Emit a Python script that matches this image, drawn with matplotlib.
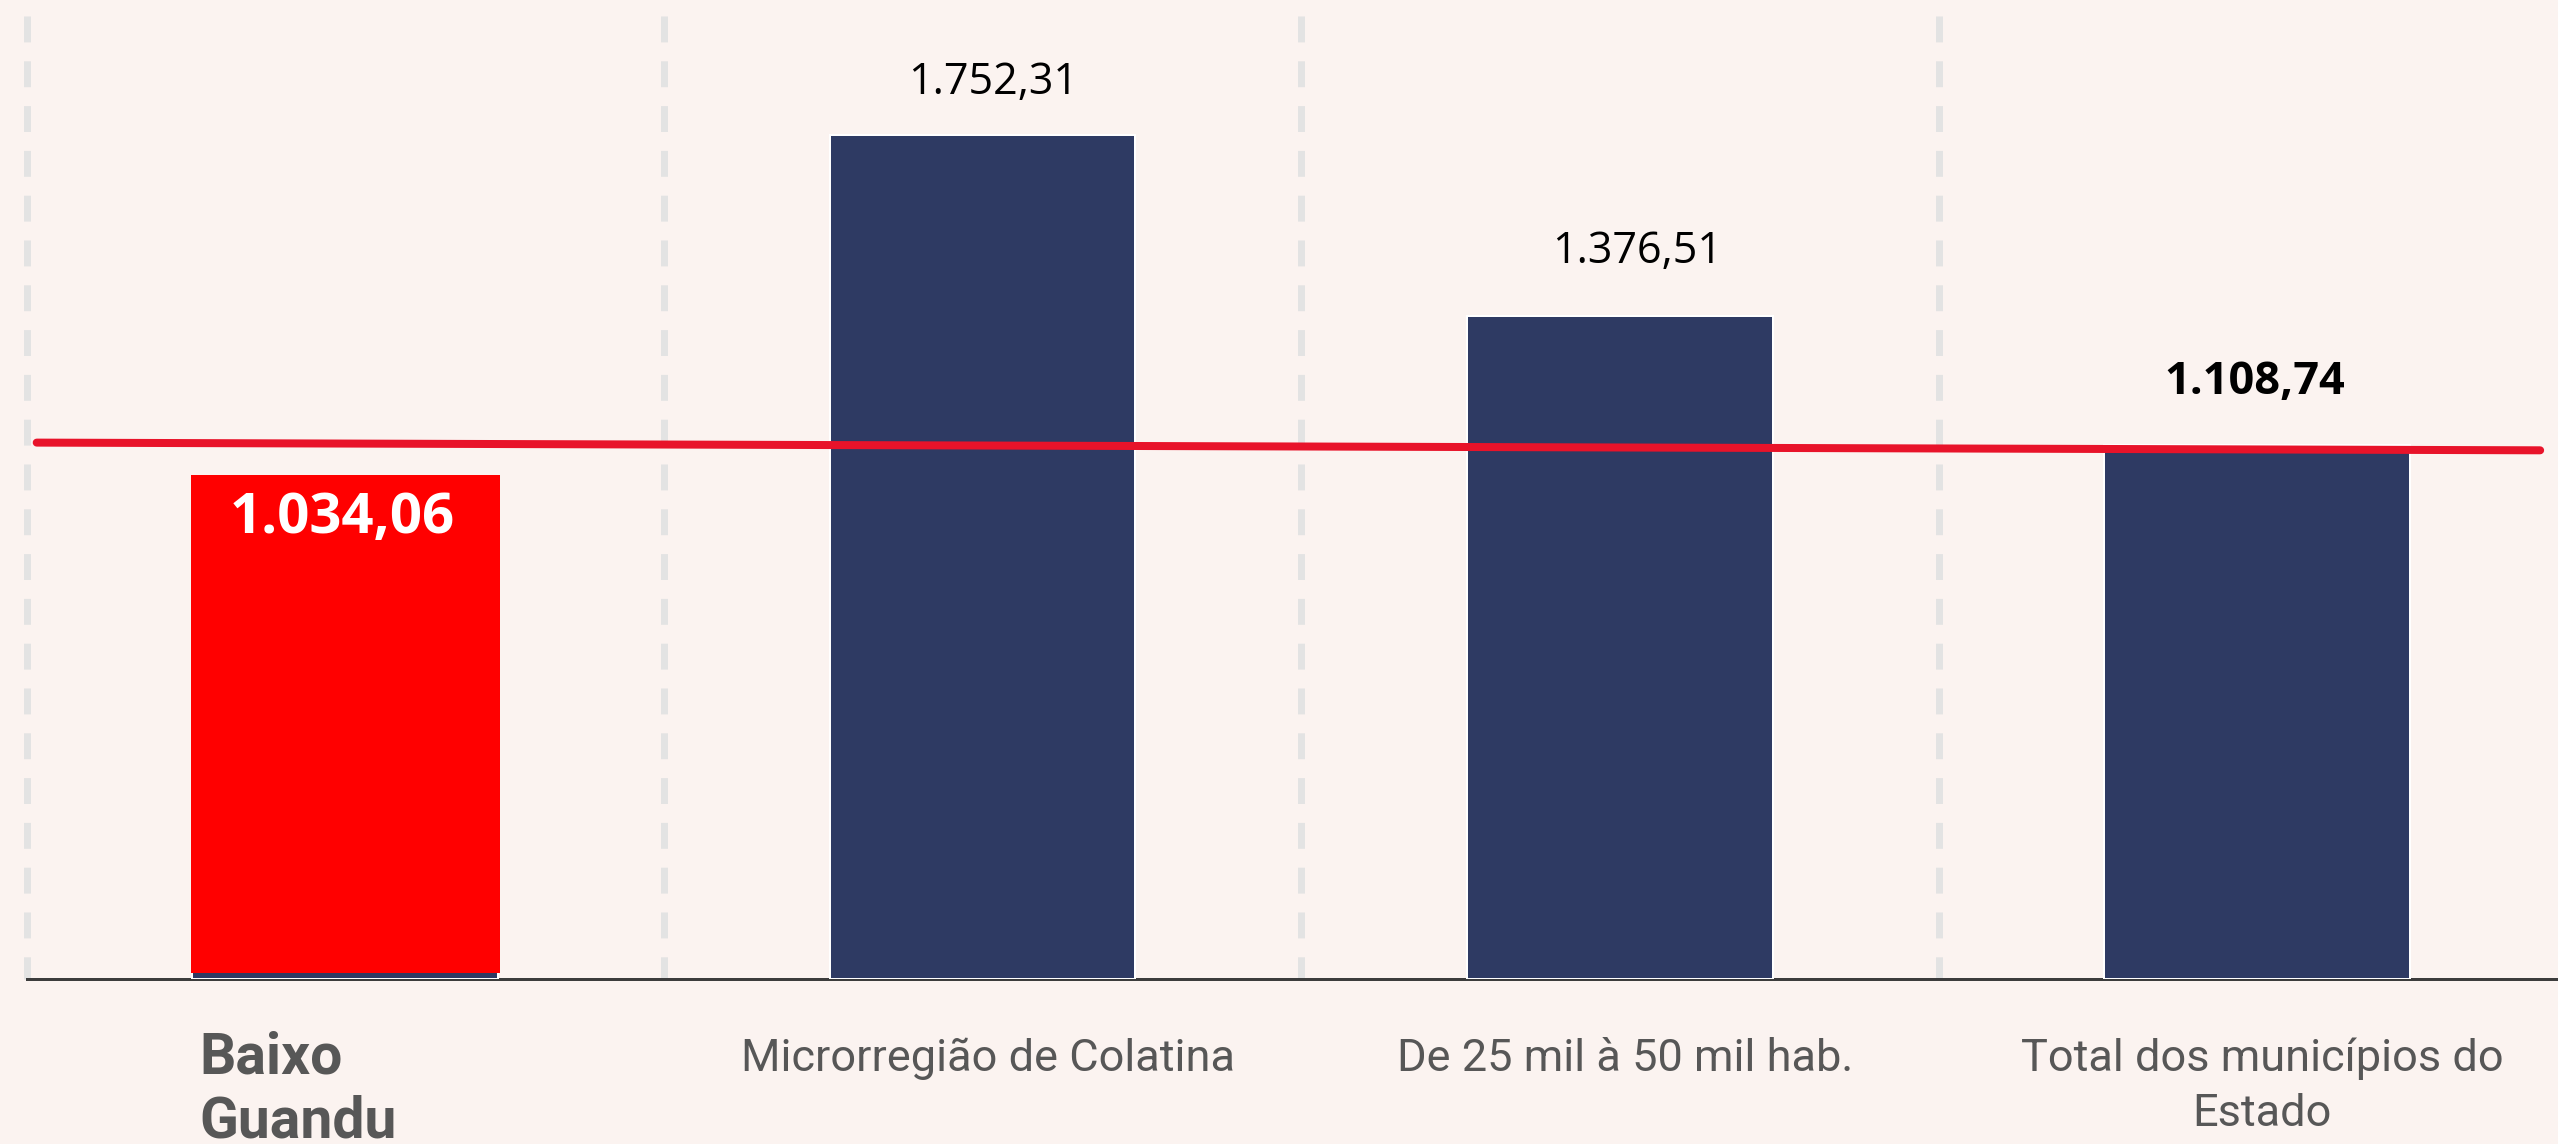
import matplotlib
matplotlib.use("Agg")
import matplotlib.pyplot as plt
import matplotlib.transforms as mtransforms
import numpy as np

# data
categories = ["Baixo\nGuandu", "Microrregião de Colatina",
              "De 25 mil à 50 mil hab.", "Total dos municípios do\nEstado"]
values = [1034.06, 1752.31, 1376.51, 1108.74]
value_labels = ["1.034,06", "1.752,31", "1.376,51", "1.108,74"]
ref_line = [1114, 1098]   # red reference line, left end -> right end

BG = "#fbf3f0"
NAVY = "#2e3a63"
RED_BAR = "#ff0000"
RED_LINE = "#e8132a"
GRAY_TXT = "#575757"
GRID = "#e3e3e3"

PX = 0.72  # points per pixel at dpi 100

fig = plt.figure(figsize=(25.58, 11.44), dpi=100, facecolor=BG)
ax = fig.add_axes([26.5 / 2558, 1 - 979 / 1144, 1 - 26.5 / 2558, 963 / 1144])
ax.set_facecolor(BG)

x = np.arange(len(categories))
ax.set_xlim(-0.5, 3.472)
ax.set_ylim(0, 2000)

# dashed separators between categories
for b in x - 0.5:
    ax.plot([b, b], [1, 0], transform=ax.get_xaxis_transform(), color=GRID,
            lw=7 * PX, ls=(0, (3.7, 2.7)), solid_capstyle="butt",
            clip_on=False, zorder=1)

bars = ax.bar(x, values, width=0.48, color=NAVY, edgecolor="white",
              linewidth=2 * PX, zorder=3)

# highlighted municipality bar, drawn on top and nudged up a bit
shift = mtransforms.ScaledTranslation(0, 6 / 100, fig.dpi_scale_trans)
hl = ax.bar(x[0], values[0], width=0.485, color=RED_BAR, linewidth=0, zorder=4)
hl[0].set_transform(ax.transData + shift)

# reference line
x0, x1 = ax.get_xlim()
ax.plot([x0 + 0.016, x1 - 0.028], ref_line, color=RED_LINE, lw=8 * PX,
        solid_capstyle="round", zorder=5)

# value labels
val_dx = [-3, 11, 17, -2]        # px
val_dy = [-52, 41, 53, 51]       # px, baseline relative to bar top
val_style = [
    dict(color="white", fontsize=40.5, fontweight="bold"),
    dict(color="black", fontsize=31),
    dict(color="black", fontsize=31),
    dict(color="black", fontsize=32.5, fontweight="bold"),
]
for i, (v, lab) in enumerate(zip(values, value_labels)):
    ax.annotate(lab, (x[i], v), xytext=(val_dx[i] * PX, val_dy[i] * PX),
                textcoords="offset points", ha="center", va="baseline",
                family=["Open Sans", "DejaVu Sans"], zorder=6, **val_style[i])

# category labels under the axis, one text per line
fam = ["Roboto", "DejaVu Sans"]
for i, cat in enumerate(categories):
    for k, line in enumerate(cat.split("\n")):
        if i == 0:
            ax.annotate(line, (x[i] - 0.24, 0), xytext=(7 * PX, (-94 - 65 * k) * PX),
                        textcoords="offset points", ha="left", va="baseline",
                        fontsize=41, fontweight="bold", color=GRAY_TXT,
                        family=fam)
        else:
            ax.annotate(line, (x[i], 0), xytext=(5 * PX, (-92 - 55 * k) * PX),
                        textcoords="offset points", ha="center", va="baseline",
                        fontsize=32.5, color=GRAY_TXT, family=fam)

for s in ["top", "right", "left"]:
    ax.spines[s].set_visible(False)
ax.spines["bottom"].set_color("#3c3c3c")
ax.spines["bottom"].set_linewidth(3 * PX)
ax.spines["bottom"].set_zorder(2)
ax.set_xticks([])
ax.set_yticks([])

fig.savefig("out.png", dpi=100, facecolor=BG)
